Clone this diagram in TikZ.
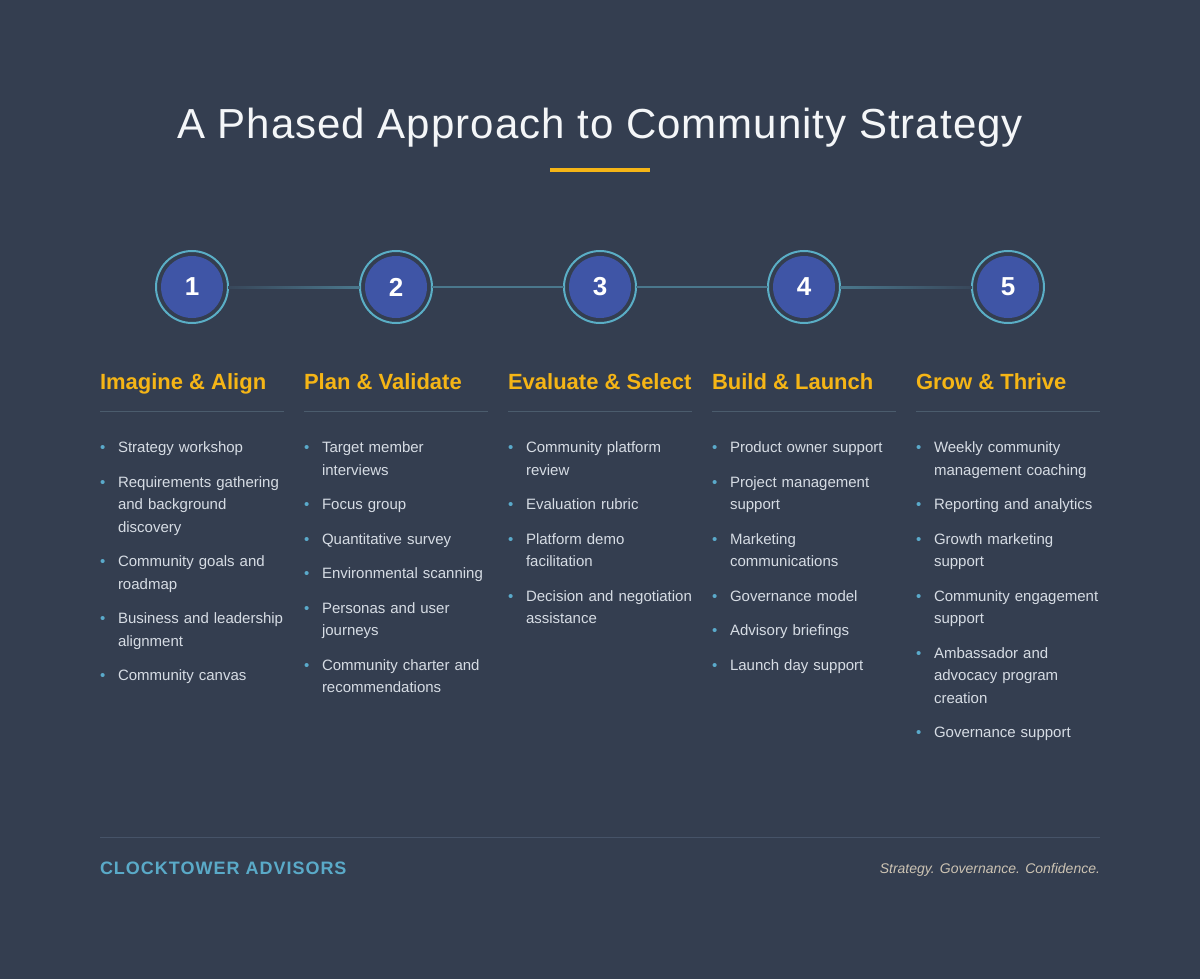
\documentclass[tikz,border=0pt]{standalone}
\usepackage{fontspec}
\setmainfont{Liberation Sans}
\newfontfamily\titlefont[LetterSpace=2.4]{Liberation Sans}
\newfontfamily\brandfont[LetterSpace=5.5]{Liberation Sans}
\usepackage{xcolor}
\usetikzlibrary{positioning,calc}

\definecolor{bgc}{HTML}{343E50}
\definecolor{titlec}{HTML}{F4F6F8}
\definecolor{goldc}{HTML}{F5B516}
\definecolor{ringc}{HTML}{5AAEC6}
\definecolor{discc}{HTML}{3F55A6}
\definecolor{textc}{HTML}{D6DCE4}
\definecolor{dotc}{HTML}{5AAACB}
\definecolor{rulec}{HTML}{4B5C6D}
\definecolor{footrulec}{HTML}{465368}
\definecolor{trackc}{HTML}{4A778C}
\definecolor{trackdim}{HTML}{38475A}
\definecolor{brandc}{HTML}{5AAAC8}
\definecolor{tagc}{HTML}{CCC3B3}

\newcommand{\bul}{\llap{\makebox[18pt][l]{\textcolor{dotc}{\textbullet}}}}

\tikzset{
  phase/.style={font=\bfseries\fontsize{22}{26}\selectfont, text=goldc, anchor=base west},
  item/.style={font=\fontsize{15}{22.5}\selectfont, text=textc, text width=180pt, align=left, anchor=north west},
  ringnode/.style={circle, draw=ringc, line width=2pt, minimum size=72pt},
  disc/.style={circle, fill=discc, minimum size=62pt, text=white, font=\bfseries\fontsize{26}{30}\selectfont},
  rulestroke/.style={draw=rulec, line width=1pt},
  track/.style={draw=trackc, line width=2pt}
}

\begin{document}
\begin{tikzpicture}[x=1pt, y=-1pt, every node/.style={inner sep=0pt, outer sep=0pt}]
  % Background
  \fill[bgc] (0,0) rectangle (1200,979);

  % Title
  \node[font=\titlefont\fontsize{42}{50}\selectfont, text=titlec, anchor=base] (title) at (600,139) {A Phased Approach to Community Strategy};
  \draw[goldc, line width=4pt] (550,170) -- (650,170);

  % Phases
  \foreach \col/\ttl/\items in {
    1/{Imagine \& Align}/{{Strategy workshop},{Requirements gathering\\and background\\discovery},{Community goals and\\roadmap},{Business and leadership\\alignment},{Community canvas}},
    2/{Plan \& Validate}/{{Target member\\interviews},{Focus group},{Quantitative survey},{Environmental scanning},{Personas and user\\journeys},{Community charter and\\recommendations}},
    3/{Evaluate \& Select}/{{Community platform\\review},{Evaluation rubric},{Platform demo\\facilitation},{Decision and negotiation\\assistance}},
    4/{Build \& Launch}/{{Product owner support},{Project management\\support},{Marketing\\communications},{Governance model},{Advisory briefings},{Launch day support}},
    5/{Grow \& Thrive}/{{Weekly community\\management coaching},{Reporting and analytics},{Growth marketing\\support},{Community engagement\\support},{Ambassador and\\advocacy program\\creation},{Governance support}}%
  }{
    \pgfmathtruncatemacro\xl{100+204*(\col-1)}
    \node[ringnode] (c\col) at (\xl+92,287) {};
    \node[disc] (n\col) at (c\col) {\col};
    \node[phase] (h\col) at (\xl,389) {\ttl};
    \draw[rulestroke] (\xl,411) -- ++(184,0);
    \node[anchor=south west, minimum size=0pt] (i\col-0) at (\xl+18,425) {};
    \foreach \txt [count=\k, remember=\k as \kp (initially 0)] in \items {
      \node[item, below=12pt of i\col-\kp.south west, anchor=north west] (i\col-\k) {\bul\strut\txt\strut};
    }
  }

  % Track between the steps
  \shade[left color=trackdim, right color=trackc] ($(c1.east)+(0,-1)$) rectangle ($(c2.west)+(0,1)$);
  \foreach \a/\b in {2/3,3/4} \draw[track] (c\a) -- (c\b);
  \shade[left color=trackc, right color=trackdim] ($(c4.east)+(0,-1)$) rectangle ($(c5.west)+(0,1)$);

  % Footer
  \draw[footrulec, line width=1pt] (100,837) -- (1100,837);
  \node[font=\brandfont\bfseries\fontsize{18}{22}\selectfont, text=brandc, anchor=base west] (brand) at (100,874) {CLOCKTOWER ADVISORS};
  \node[font=\itshape\fontsize{14}{17}\selectfont, text=tagc, anchor=base east] (tag) at (1100,873) {Strategy. Governance. Confidence.};
\end{tikzpicture}
\end{document}
